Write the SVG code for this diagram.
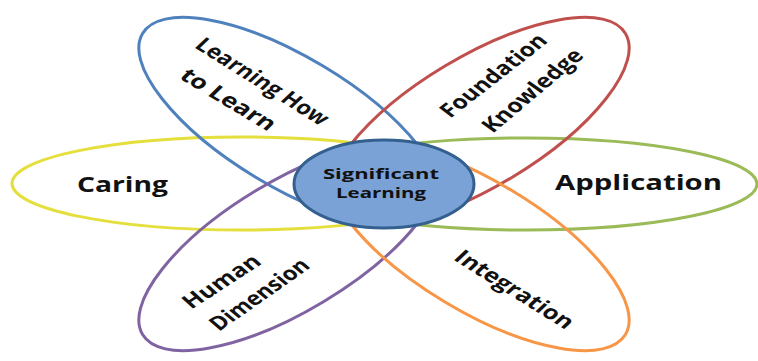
<svg xmlns="http://www.w3.org/2000/svg" width="758" height="361" viewBox="0 0 758 361">
  <style>
    .petal { fill: none; stroke-width: 3; }
    .label { font-family: "Open Sans", "Liberation Sans", sans-serif; font-weight: bold; fill: #111; text-anchor: middle; }
    .big { font-size: 21px; }
    .tilt { font-size: 19.5px; }
    .core { font-size: 15px; }
  </style>
  <rect width="758" height="361" fill="#ffffff"/>

  <!-- outer ovals, all meeting under the centre -->
  <g id="caring">
    <ellipse class="petal" cx="241" cy="183.5" rx="229" ry="46.5" stroke="#e4df3c"/>
    <text class="label big" x="122.5" y="192" textLength="91" lengthAdjust="spacingAndGlyphs">Caring</text>
  </g>
  <g id="application">
    <ellipse class="petal" cx="526" cy="184" rx="231" ry="46" stroke="#9bbb59"/>
    <text class="label big" x="638.5" y="190" textLength="167" lengthAdjust="spacingAndGlyphs">Application</text>
  </g>
  <!-- tilted labels are set in a frame widened 1.3x horizontally -->
  <g id="learning-how-to-learn">
    <ellipse class="petal" cx="0" cy="0" rx="172" ry="65" transform="translate(290 122) rotate(31)" stroke="#4f81bd"/>
    <text class="label tilt" x="0" y="6" transform="translate(262 82) scale(1.3 1) rotate(39.1)" textLength="126" lengthAdjust="spacingAndGlyphs">Learning How</text>
    <text class="label tilt" x="0" y="6" transform="translate(228 100) scale(1.3 1) rotate(38)" textLength="88" lengthAdjust="spacingAndGlyphs">to Learn</text>
  </g>
  <g id="foundation-knowledge">
    <ellipse class="petal" cx="0" cy="0" rx="172" ry="65" transform="translate(478 122) rotate(-31)" stroke="#c0504d"/>
    <text class="label tilt" x="0" y="6" transform="translate(494 76) scale(1.3 1) rotate(-45.4)" textLength="108" lengthAdjust="spacingAndGlyphs">Foundation</text>
    <text class="label tilt" x="0" y="6" transform="translate(533 91) scale(1.3 1) rotate(-47.5)" textLength="105" lengthAdjust="spacingAndGlyphs">Knowledge</text>
  </g>
  <g id="human-dimension">
    <ellipse class="petal" cx="0" cy="0" rx="172" ry="65" transform="translate(290 246) rotate(-31)" stroke="#8064a2"/>
    <text class="label tilt" x="0" y="6" transform="translate(222 282) scale(1.3 1) rotate(-40.2)" textLength="72" lengthAdjust="spacingAndGlyphs">Human</text>
    <text class="label tilt" x="0" y="6" transform="translate(260 295) scale(1.3 1) rotate(-42.3)" textLength="96" lengthAdjust="spacingAndGlyphs">Dimension</text>
  </g>
  <g id="integration">
    <ellipse class="petal" cx="0" cy="0" rx="172" ry="65" transform="translate(478 246) rotate(31)" stroke="#f79646"/>
    <text class="label tilt" x="0" y="6" transform="translate(514 290) scale(1.3 1) rotate(39.1)" textLength="112" lengthAdjust="spacingAndGlyphs">Integration</text>
  </g>

  <!-- centre disc -->
  <g id="significant-learning">
    <ellipse cx="384" cy="184" rx="90" ry="44" fill="#7ba2d6" stroke="#34608f" stroke-width="3"/>
    <text class="label core" x="381" y="179" textLength="116" lengthAdjust="spacingAndGlyphs">Significant</text>
    <text class="label core" x="381" y="198" textLength="90" lengthAdjust="spacingAndGlyphs">Learning</text>
  </g>

  <g id="connectors"></g>
</svg>
